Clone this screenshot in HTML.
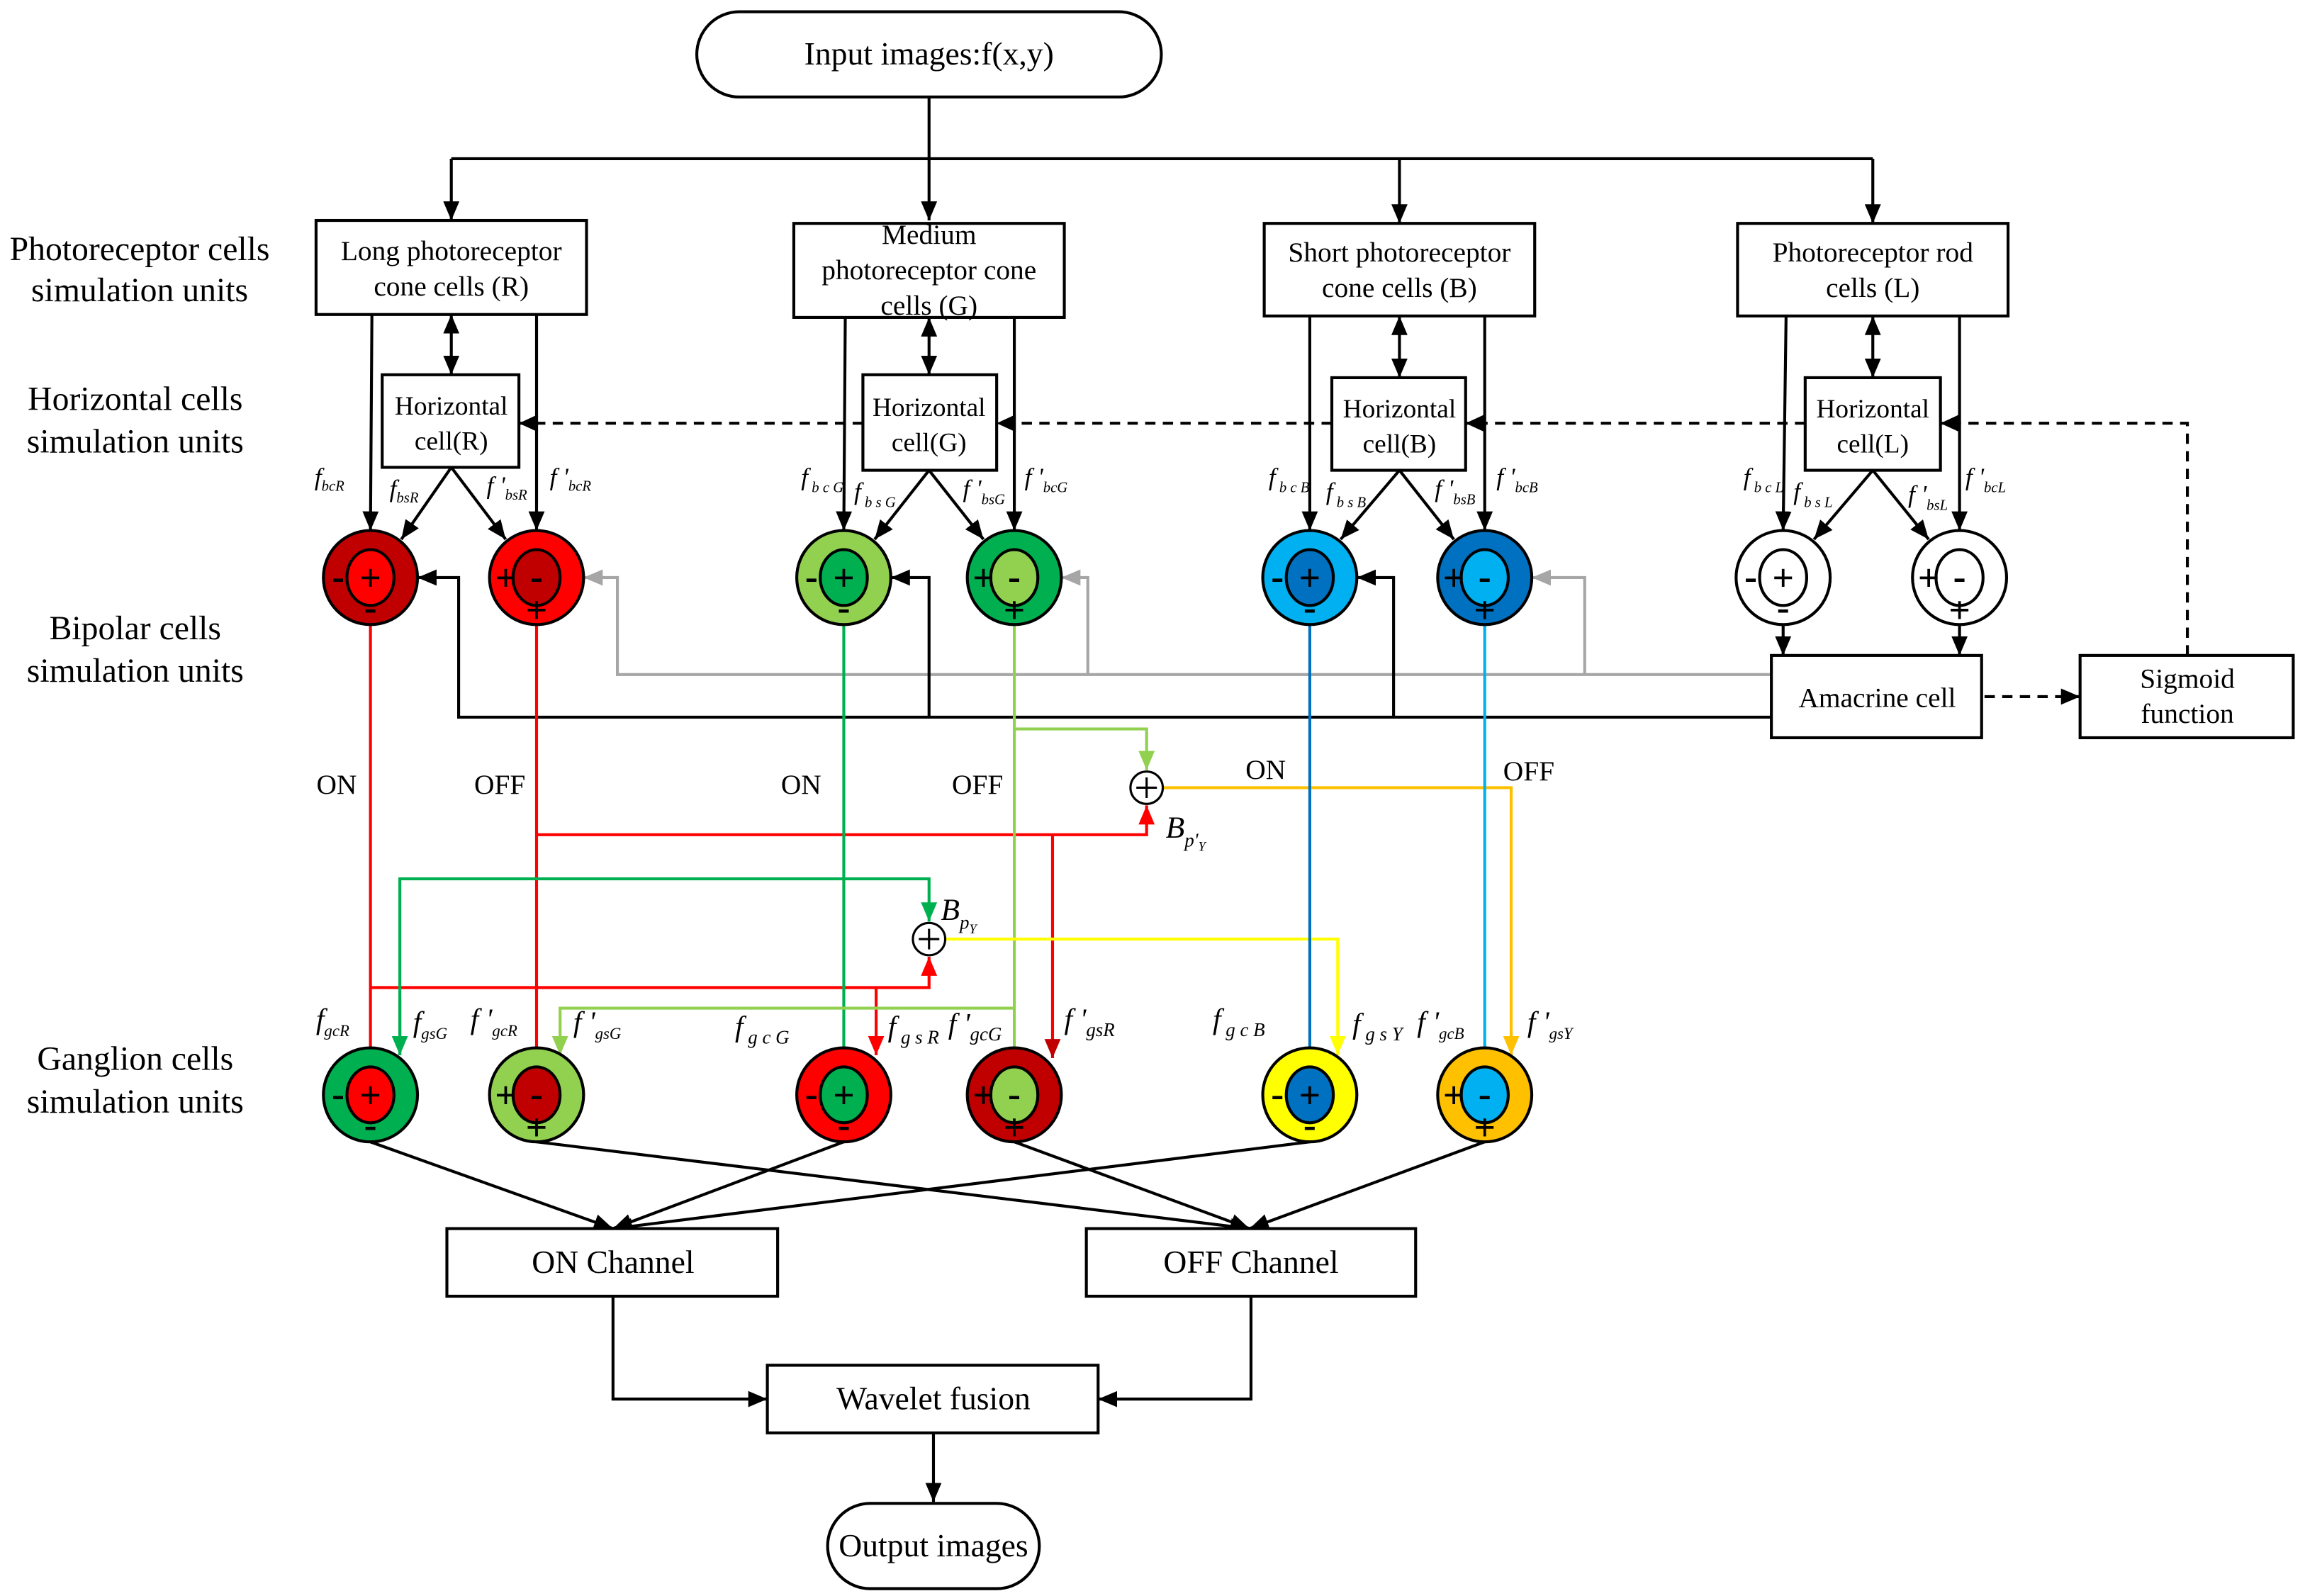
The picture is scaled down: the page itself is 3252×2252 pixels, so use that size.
<!DOCTYPE html>
<html><head><meta charset="utf-8"><style>
html,body{margin:0;padding:0;background:#fff}
svg{display:block}
text{font-family:"Liberation Serif",serif;fill:#000}
</style></head><body>
<svg xmlns="http://www.w3.org/2000/svg" width="3252" height="2252" viewBox="0 0 1568 1086" preserveAspectRatio="none">
<defs>
<marker id="mk" markerUnits="userSpaceOnUse" markerWidth="13" markerHeight="11" refX="13" refY="5.5" orient="auto"><path d="M0,0L13,5.5L0,11z" fill="#000"/></marker>
<marker id="mks" markerUnits="userSpaceOnUse" markerWidth="13" markerHeight="11" refX="0" refY="5.5" orient="auto"><path d="M13,0L0,5.5L13,11z" fill="#000"/></marker>
<marker id="mgy" markerUnits="userSpaceOnUse" markerWidth="13" markerHeight="11" refX="13" refY="5.5" orient="auto"><path d="M0,0L13,5.5L0,11z" fill="#a6a6a6"/></marker>
<marker id="mr" markerUnits="userSpaceOnUse" markerWidth="13" markerHeight="11" refX="13" refY="5.5" orient="auto"><path d="M0,0L13,5.5L0,11z" fill="#ff0000"/></marker>
<marker id="mdr" markerUnits="userSpaceOnUse" markerWidth="13" markerHeight="11" refX="13" refY="5.5" orient="auto"><path d="M0,0L13,5.5L0,11z" fill="#c00000"/></marker>
<marker id="mg" markerUnits="userSpaceOnUse" markerWidth="13" markerHeight="11" refX="13" refY="5.5" orient="auto"><path d="M0,0L13,5.5L0,11z" fill="#00b050"/></marker>
<marker id="mlg" markerUnits="userSpaceOnUse" markerWidth="13" markerHeight="11" refX="13" refY="5.5" orient="auto"><path d="M0,0L13,5.5L0,11z" fill="#92d050"/></marker>
<marker id="my" markerUnits="userSpaceOnUse" markerWidth="13" markerHeight="11" refX="13" refY="5.5" orient="auto"><path d="M0,0L13,5.5L0,11z" fill="#ffff00"/></marker>
<marker id="mo" markerUnits="userSpaceOnUse" markerWidth="13" markerHeight="11" refX="13" refY="5.5" orient="auto"><path d="M0,0L13,5.5L0,11z" fill="#ffc000"/></marker>
<marker id="mb" markerUnits="userSpaceOnUse" markerWidth="13" markerHeight="11" refX="13" refY="5.5" orient="auto"><path d="M0,0L13,5.5L0,11z" fill="#0070c0"/></marker>
<marker id="mc" markerUnits="userSpaceOnUse" markerWidth="13" markerHeight="11" refX="13" refY="5.5" orient="auto"><path d="M0,0L13,5.5L0,11z" fill="#00b0f0"/></marker>
</defs>

<!-- Left labels -->
<g font-size="23" text-anchor="middle">
<text x="95" y="177">Photoreceptor cells</text><text x="95" y="205">simulation units</text>
<text x="92" y="279">Horizontal cells</text><text x="92" y="308">simulation units</text>
<text x="92" y="435">Bipolar cells</text><text x="92" y="464">simulation units</text>
<text x="92" y="728">Ganglion cells</text><text x="92" y="757">simulation units</text>
</g>

<!-- Input -->
<rect x="474" y="8" width="316" height="58" rx="29" fill="#fff" stroke="#000" stroke-width="2"/>
<text x="632" y="44" font-size="22" text-anchor="middle">Input images:f(x,y)</text>
<g stroke="#000" stroke-width="2" fill="none">
<line x1="632" y1="66" x2="632" y2="150" marker-end="url(#mk)"/>
<line x1="307" y1="108" x2="1274" y2="108"/>
<line x1="307" y1="108" x2="307" y2="150" marker-end="url(#mk)"/>
<line x1="952" y1="108" x2="952" y2="152" marker-end="url(#mk)"/>
<line x1="1274" y1="108" x2="1274" y2="152" marker-end="url(#mk)"/>
</g>

<!-- Photoreceptor boxes -->
<g fill="#fff" stroke="#000" stroke-width="2">
<rect x="215" y="150" width="184" height="64"/>
<rect x="540" y="152" width="184" height="64"/>
<rect x="860" y="152" width="184" height="63"/>
<rect x="1182" y="152" width="184" height="63"/>
<rect x="260" y="255" width="93" height="63"/>
<rect x="587" y="255" width="91" height="65"/>
<rect x="906" y="257" width="91" height="63"/>
<rect x="1228" y="257" width="92" height="63"/>
</g>
<g font-size="19" text-anchor="middle">
<text x="307" y="177">Long photoreceptor</text><text x="307" y="201">cone cells (R)</text>
<text x="632" y="166">Medium</text><text x="632" y="190">photoreceptor cone</text><text x="632" y="214">cells (G)</text>
<text x="952" y="178">Short photoreceptor</text><text x="952" y="202">cone cells (B)</text>
<text x="1274" y="178">Photoreceptor rod</text><text x="1274" y="202">cells (L)</text>
<g font-size="18">
<text x="307" y="282">Horizontal</text><text x="307" y="306">cell(R)</text>
<text x="632" y="283">Horizontal</text><text x="632" y="307">cell(G)</text>
<text x="952" y="284">Horizontal</text><text x="952" y="308">cell(B)</text>
<text x="1274" y="284">Horizontal</text><text x="1274" y="308">cell(L)</text>
</g>
</g>

<g stroke="#000" stroke-width="2" fill="none">
<line x1="307" y1="214" x2="307" y2="255" marker-start="url(#mks)" marker-end="url(#mk)"/>
<line x1="632" y1="216" x2="632" y2="255" marker-start="url(#mks)" marker-end="url(#mk)"/>
<line x1="952" y1="215" x2="952" y2="257" marker-start="url(#mks)" marker-end="url(#mk)"/>
<line x1="1274" y1="215" x2="1274" y2="257" marker-start="url(#mks)" marker-end="url(#mk)"/>

<line x1="253" y1="214" x2="252" y2="361" marker-end="url(#mk)"/>
<line x1="365" y1="214" x2="365" y2="361" marker-end="url(#mk)"/>
<line x1="575" y1="216" x2="574" y2="361" marker-end="url(#mk)"/>
<line x1="690" y1="216" x2="690" y2="361" marker-end="url(#mk)"/>
<line x1="891" y1="215" x2="891" y2="361" marker-end="url(#mk)"/>
<line x1="1010" y1="215" x2="1010" y2="361" marker-end="url(#mk)"/>
<line x1="1215" y1="215" x2="1213" y2="361" marker-end="url(#mk)"/>
<line x1="1333" y1="215" x2="1333" y2="361" marker-end="url(#mk)"/>

<line x1="307" y1="318" x2="273" y2="367" marker-end="url(#mk)"/>
<line x1="307" y1="318" x2="344" y2="367" marker-end="url(#mk)"/>
<line x1="632" y1="320" x2="595" y2="367" marker-end="url(#mk)"/>
<line x1="632" y1="320" x2="669" y2="367" marker-end="url(#mk)"/>
<line x1="952" y1="320" x2="912" y2="367" marker-end="url(#mk)"/>
<line x1="952" y1="320" x2="989" y2="367" marker-end="url(#mk)"/>
<line x1="1274" y1="320" x2="1234" y2="367" marker-end="url(#mk)"/>
<line x1="1274" y1="320" x2="1312" y2="367" marker-end="url(#mk)"/>

<g stroke-dasharray="7,5">
<polyline points="1488,446 1488,288 1320,288"/>
<line x1="1228" y1="288" x2="997" y2="288"/>
<line x1="906" y1="288" x2="678" y2="288"/>
<line x1="587" y1="288" x2="353" y2="288"/>
<line x1="1350" y1="474" x2="1415" y2="474" marker-end="url(#mk)"/>
</g>
</g>
<g fill="#000">
<path d="M1320,288l13,-6v12z"/><path d="M997,288l13,-6v12z"/><path d="M678,288l13,-6v12z"/><path d="M353,288l13,-6v12z"/>
</g>

<g fill="none" stroke-width="2">
<polyline stroke="#a6a6a6" points="1205,459 420,459 420,393 397,393" marker-end="url(#mgy)"/>
<polyline stroke="#a6a6a6" points="740,459 740,393 722,393" marker-end="url(#mgy)"/>
<polyline stroke="#a6a6a6" points="1078,459 1078,393 1042,393" marker-end="url(#mgy)"/>
<polyline stroke="#000" points="1205,488 312,488 312,393 284,393" marker-end="url(#mk)"/>
<polyline stroke="#000" points="632,488 632,393 606,393" marker-end="url(#mk)"/>
<polyline stroke="#000" points="948,488 948,393 923,393" marker-end="url(#mk)"/>
<line stroke="#000" x1="1213" y1="425" x2="1213" y2="446" marker-end="url(#mk)"/>
<line stroke="#000" x1="1333" y1="425" x2="1333" y2="446" marker-end="url(#mk)"/>
</g>

<rect x="1205" y="446" width="143" height="56" fill="#fff" stroke="#000" stroke-width="2"/>
<text x="1277" y="481" font-size="19" text-anchor="middle">Amacrine cell</text>
<rect x="1415" y="446" width="145" height="56" fill="#fff" stroke="#000" stroke-width="2"/>
<text x="1488" y="468" font-size="19" text-anchor="middle">Sigmoid</text>
<text x="1488" y="492" font-size="19" text-anchor="middle">function</text>

<g fill="none" stroke-width="2">
<line stroke="#ff0000" x1="252" y1="425" x2="252" y2="728" marker-end="url(#mr)"/>
<line stroke="#ff0000" x1="365" y1="425" x2="365" y2="728" marker-end="url(#mr)"/>
<polyline stroke="#ff0000" points="365,568 780,568 780,548" marker-end="url(#mr)"/>
<polyline stroke="#ff0000" points="716,568 716,720" marker-end="url(#mdr)"/>
<polyline stroke="#ff0000" points="252,672 632,672 632,651" marker-end="url(#mr)"/>
<polyline stroke="#ff0000" points="596,672 596,718" marker-end="url(#mr)"/>
<line stroke="#00b050" x1="574" y1="425" x2="574" y2="728" marker-end="url(#mg)"/>
<polyline stroke="#00b050" points="272,718 272,598 632,598 632,627" marker-end="url(#mg)"/>
<line stroke="#00b050" x1="272" y1="680" x2="272" y2="718" marker-end="url(#mg)"/>
<line stroke="#92d050" x1="690" y1="425" x2="690" y2="728" marker-end="url(#mlg)"/>
<polyline stroke="#92d050" points="690,496 780,496 780,524" marker-end="url(#mlg)"/>
<polyline stroke="#92d050" points="690,686 381,686 381,718" marker-end="url(#mlg)"/>
<polyline stroke="#ffc000" points="791,536 1028,536 1028,718" marker-end="url(#mo)"/>
<polyline stroke="#ffff00" points="643,639 910,639 910,718" marker-end="url(#my)"/>
<line stroke="#0070c0" x1="891" y1="425" x2="891" y2="728" marker-end="url(#mb)"/>
<line stroke="#00b0f0" x1="1010" y1="425" x2="1010" y2="728" marker-end="url(#mc)"/>
</g>
<g fill="#fff" stroke="#000" stroke-width="1.5">
<circle cx="780" cy="536" r="11"/><circle cx="632" cy="639" r="11"/>
</g>
<g stroke="#000" stroke-width="1.5">
<line x1="773" y1="536" x2="787" y2="536"/><line x1="780" y1="529" x2="780" y2="543"/>
<line x1="625" y1="639" x2="639" y2="639"/><line x1="632" y1="632" x2="632" y2="646"/>
</g>
<g font-size="19">
<text x="229" y="540" text-anchor="middle">ON</text><text x="340" y="540" text-anchor="middle">OFF</text>
<text x="545" y="540" text-anchor="middle">ON</text><text x="665" y="540" text-anchor="middle">OFF</text>
<text x="861" y="530" text-anchor="middle">ON</text><text x="1040" y="531" text-anchor="middle">OFF</text>
</g>
<text x="793" y="570" font-size="21" font-style="italic">B<tspan font-size="13" dy="6">p'</tspan><tspan font-size="9" dy="3">Y</tspan></text>
<text x="640" y="626" font-size="21" font-style="italic">B<tspan font-size="13" dy="6">p</tspan><tspan font-size="9" dy="3">Y</tspan></text>

<g stroke="#000" stroke-width="2">
<circle cx="252" cy="393" r="32" fill="#c00000"/><ellipse cx="252" cy="393" rx="16" ry="19" fill="#ff0000"/>
<circle cx="365" cy="393" r="32" fill="#ff0000"/><ellipse cx="365" cy="393" rx="16" ry="19" fill="#c00000"/>
<circle cx="574" cy="393" r="32" fill="#92d050"/><ellipse cx="574" cy="393" rx="16" ry="19" fill="#00b050"/>
<circle cx="690" cy="393" r="32" fill="#00b050"/><ellipse cx="690" cy="393" rx="16" ry="19" fill="#92d050"/>
<circle cx="891" cy="393" r="32" fill="#00b0f0"/><ellipse cx="891" cy="393" rx="16" ry="19" fill="#0070c0"/>
<circle cx="1010" cy="393" r="32" fill="#0070c0"/><ellipse cx="1010" cy="393" rx="16" ry="19" fill="#00b0f0"/>
<circle cx="1213" cy="393" r="32" fill="#fff"/><ellipse cx="1213" cy="393" rx="16" ry="19" fill="#fff"/>
<circle cx="1333" cy="393" r="32" fill="#fff"/><ellipse cx="1333" cy="393" rx="16" ry="19" fill="#fff"/>
<circle cx="252" cy="745" r="32" fill="#00b050"/><ellipse cx="252" cy="745" rx="16" ry="19" fill="#ff0000"/>
<circle cx="365" cy="745" r="32" fill="#92d050"/><ellipse cx="365" cy="745" rx="16" ry="19" fill="#c00000"/>
<circle cx="574" cy="745" r="32" fill="#ff0000"/><ellipse cx="574" cy="745" rx="16" ry="19" fill="#00b050"/>
<circle cx="690" cy="745" r="32" fill="#c00000"/><ellipse cx="690" cy="745" rx="16" ry="19" fill="#92d050"/>
<circle cx="891" cy="745" r="32" fill="#ffff00"/><ellipse cx="891" cy="745" rx="16" ry="19" fill="#0070c0"/>
<circle cx="1010" cy="745" r="32" fill="#ffc000"/><ellipse cx="1010" cy="745" rx="16" ry="19" fill="#00b0f0"/>
</g>
<g font-family="'Liberation Sans',sans-serif" font-size="26" font-weight="bold" text-anchor="middle">
<text x="252" y="402">+</text><text x="230" y="401">-</text><text x="252" y="422">-</text>
<text x="365" y="401">-</text><text x="344" y="402">+</text><text x="365" y="424">+</text>
<text x="574" y="402">+</text><text x="552" y="401">-</text><text x="574" y="422">-</text>
<text x="690" y="401">-</text><text x="669" y="402">+</text><text x="690" y="424">+</text>
<text x="891" y="402">+</text><text x="869" y="401">-</text><text x="891" y="422">-</text>
<text x="1010" y="401">-</text><text x="989" y="402">+</text><text x="1010" y="424">+</text>
<text x="1213" y="402">+</text><text x="1191" y="401">-</text><text x="1213" y="422">-</text>
<text x="1333" y="401">-</text><text x="1312" y="402">+</text><text x="1333" y="424">+</text>

<text x="252" y="754">+</text><text x="230" y="753">-</text><text x="252" y="774">-</text>
<text x="365" y="753">-</text><text x="344" y="754">+</text><text x="365" y="776">+</text>
<text x="574" y="754">+</text><text x="552" y="753">-</text><text x="574" y="774">-</text>
<text x="690" y="753">-</text><text x="669" y="754">+</text><text x="690" y="776">+</text>
<text x="891" y="754">+</text><text x="869" y="753">-</text><text x="891" y="774">-</text>
<text x="1010" y="753">-</text><text x="989" y="754">+</text><text x="1010" y="776">+</text>
</g>

<g font-style="italic" font-size="17" fill="#333">
<text x="214" y="330">f<tspan font-size="10" dy="4">bcR</tspan></text>
<text x="265" y="338">f<tspan font-size="10" dy="4">bsR</tspan></text>
<text x="331" y="336">f '<tspan font-size="10" dy="4">bsR</tspan></text>
<text x="374" y="330">f '<tspan font-size="10" dy="4">bcR</tspan></text>
<text x="545" y="330">f<tspan font-size="10" dy="5"> b c G</tspan></text>
<text x="581" y="340">f<tspan font-size="10" dy="5"> b s G</tspan></text>
<text x="655" y="338">f '<tspan font-size="10" dy="5">bsG</tspan></text>
<text x="697" y="330">f '<tspan font-size="10" dy="5">bcG</tspan></text>
<text x="863" y="330">f<tspan font-size="10" dy="5"> b c B</tspan></text>
<text x="902" y="340">f<tspan font-size="10" dy="5"> b s B</tspan></text>
<text x="976" y="338">f '<tspan font-size="10" dy="5">bsB</tspan></text>
<text x="1018" y="330">f '<tspan font-size="10" dy="5">bcB</tspan></text>
<text x="1186" y="330">f<tspan font-size="10" dy="5"> b c L</tspan></text>
<text x="1220" y="340">f<tspan font-size="10" dy="5"> b s L</tspan></text>
<text x="1298" y="342">f '<tspan font-size="10" dy="5">bsL</tspan></text>
<text x="1337" y="330">f '<tspan font-size="10" dy="5">bcL</tspan></text>
</g>
<g font-style="italic" font-size="20" fill="#333">
<text x="215" y="700">f<tspan font-size="11" dy="5">gcR</tspan></text>
<text x="281" y="702">f<tspan font-size="11" dy="5">gsG</tspan></text>
<text x="320" y="700">f '<tspan font-size="11" dy="5">gcR</tspan></text>
<text x="390" y="702">f '<tspan font-size="11" dy="5">gsG</tspan></text>
<text x="500" y="705">f<tspan font-size="13" dy="5"> g c G</tspan></text>
<text x="604" y="705">f<tspan font-size="13" dy="5"> g s R</tspan></text>
<text x="645" y="703">f '<tspan font-size="13" dy="5">gcG</tspan></text>
<text x="724" y="700">f '<tspan font-size="13" dy="5">gsR</tspan></text>
<text x="825" y="700">f<tspan font-size="13" dy="5"> g c B</tspan></text>
<text x="920" y="703">f<tspan font-size="13" dy="5"> g s Y</tspan></text>
<text x="964" y="702">f '<tspan font-size="11" dy="5">gcB</tspan></text>
<text x="1039" y="702">f '<tspan font-size="11" dy="5">gsY</tspan></text>
</g>

<g stroke="#000" stroke-width="2" fill="none">
<line x1="252" y1="777" x2="417" y2="836" marker-end="url(#mk)"/>
<line x1="574" y1="777" x2="417" y2="836" marker-end="url(#mk)"/>
<line x1="891" y1="777" x2="417" y2="836" marker-end="url(#mk)"/>
<line x1="365" y1="777" x2="850" y2="836" marker-end="url(#mk)"/>
<line x1="690" y1="777" x2="850" y2="836" marker-end="url(#mk)"/>
<line x1="1010" y1="777" x2="850" y2="836" marker-end="url(#mk)"/>
<polyline points="417,882 417,952 522,952" marker-end="url(#mk)"/>
<polyline points="851,882 851,952 747,952" marker-end="url(#mk)"/>
<line x1="635" y1="975" x2="635" y2="1022" marker-end="url(#mk)"/>
</g>
<g fill="#fff" stroke="#000" stroke-width="2">
<rect x="304" y="836" width="225" height="46"/>
<rect x="739" y="836" width="224" height="46"/>
<rect x="522" y="929" width="225" height="46"/>
<rect x="563" y="1023" width="144" height="58" rx="29"/>
</g>
<g font-size="22" text-anchor="middle">
<text x="417" y="866">ON Channel</text>
<text x="851" y="866">OFF Channel</text>
<text x="635" y="959">Wavelet fusion</text>
<text x="635" y="1059">Output images</text>
</g>
</svg>
</body></html>
